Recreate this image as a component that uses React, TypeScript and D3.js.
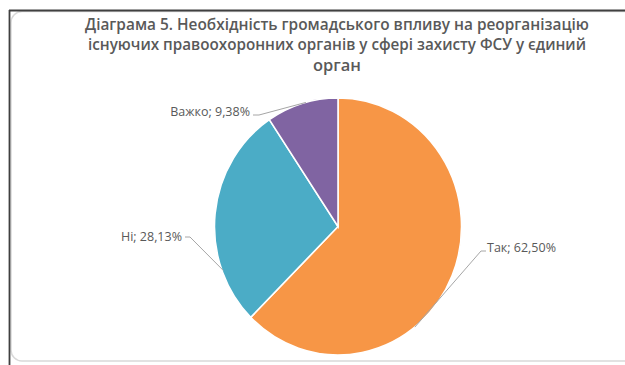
import React from "react";
import * as d3 from "d3";

const categories = ["Так", "Ні", "Важко"];
const values = [62.5, 28.13, 9.38];
const valueLabels = ["62,50%", "28,13%", "9,38%"];
const colors = ["#F79646", "#4BACC6", "#8064A2"];
const titleLines = [
  "Діаграма 5. Необхідність громадського  впливу на реорганізацію",
  "існуючих правоохоронних органів у сфері захисту ФСУ у єдиний",
  "орган",
];

export default function App() {
  const W = 625, H = 365;
  const cx = 338, cy = 226.5;
  const ry = 128.5, rx = 123.5;
  const pie = d3.pie<number>().sort(null).value((d) => d)(values);
  const arc = d3.arc<d3.PieArcDatum<number>>().innerRadius(0).outerRadius(ry);

  const labelCfg = [
    { x: 487, y: 252, anchor: "start", elbow: [486, 251], bend: [481, 251] },
    { x: 182, y: 241, anchor: "end", elbow: [185, 237], bend: [190, 237] },
    { x: 250, y: 116, anchor: "end", elbow: [253, 115], bend: [259, 115] },
  ];

  const pointOn = (angle: number, k: number) => [
    cx + Math.sin(angle) * rx * k,
    cy - Math.cos(angle) * ry * k,
  ];

  const leaderTargets = [
    pointOn(2.47, 1.0),
    pointOn(4.36, 0.99),
    pointOn(6.02, 1.0),
  ];

  const titleWidths = [504, 498, 48];
  const titleY = [30, 50, 71];

  return (
    <svg
      width={W}
      height={H}
      style={{ position: "absolute", left: 0, top: 0, background: "#fff" }}
      fontFamily="'Open Sans', sans-serif"
    >
      <rect x={11} y={11.5} width={640} height={349.5} rx={11} ry={11} fill="#fff" stroke="#d9d9d9" strokeWidth={1.5} />
      <line x1={9} y1={10.5} x2={W} y2={10.5} stroke="#404040" strokeWidth={1.8} />
      <line x1={9.5} y1={10} x2={9.5} y2={H} stroke="#404040" strokeWidth={1.8} />

      {titleLines.map((t, i) => (
        <text
          key={i}
          x={337}
          y={titleY[i]}
          textAnchor="middle"
          fontSize={15.5}
          fontWeight={600}
          fill="#595959"
          textLength={titleWidths[i]}
          lengthAdjust="spacingAndGlyphs"
        >
          {t}
        </text>
      ))}

      <g transform={`translate(${cx},${cy}) scale(${rx / ry},1)`}>
        {pie.map((d, i) => (
          <path key={i} d={arc(d) || ""} fill={colors[i]} stroke="#fff" strokeWidth={1.6} />
        ))}
      </g>

      {pie.map((d, i) => {
        const c = labelCfg[i];
        const t = leaderTargets[i];
        return (
          <g key={i}>
            <polyline
              points={`${t[0]},${t[1]} ${c.bend[0]},${c.bend[1]} ${c.elbow[0]},${c.elbow[1]}`}
              fill="none"
              stroke="#a6a6a6"
              strokeWidth={1}
            />
            <text x={c.x} y={c.y} textAnchor={c.anchor as any} fontSize={12.5} fill="#595959">
              {`${categories[i]}; ${valueLabels[i]}`}
            </text>
          </g>
        );
      })}
    </svg>
  );
}
